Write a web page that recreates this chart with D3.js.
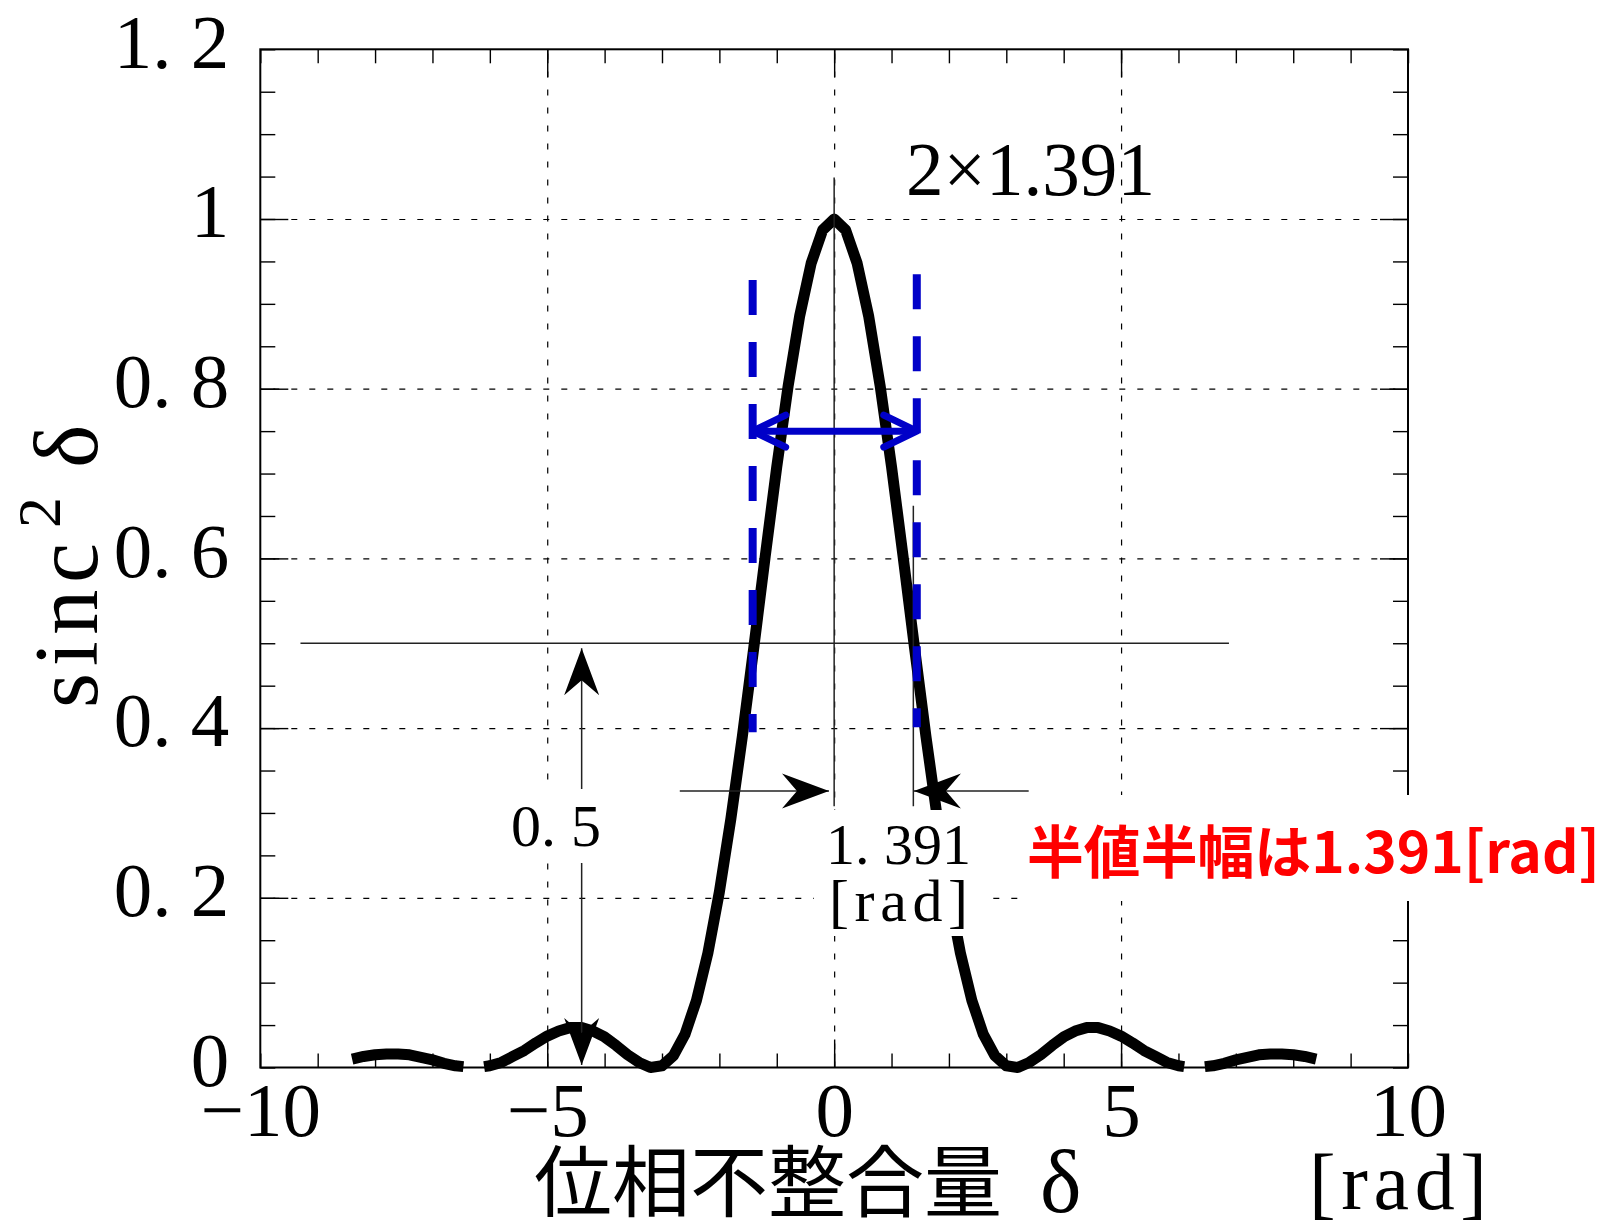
<!DOCTYPE html>
<html>
<head>
<meta charset="utf-8">
<script src="https://cdn.jsdelivr.net/npm/d3@7"></script>
<style>
  body { margin: 0; background: #fff; }
  svg { display: block; }
</style>
</head>
<body>
<svg id="chart" width="1610" height="1227"></svg>
<script>
// ---- values ----
var xTickLabels = [-10, -5, 0, 5, 10];
var yTickLabels = [0, 0.2, 0.4, 0.6, 0.8, 1, 1.2];
var xGrid = [-5, 0, 5];
var yGrid = [0.2, 0.4, 0.6, 0.8, 1.0];

// sinc^2 curve, plotted in three pieces (gaps near +-2pi in the original)
var outerLeftX = [-8.4, -8.2, -8.0, -7.8, -7.6, -7.4, -7.2, -7.0, -6.8, -6.6, -6.46];
var outerLeftY = [0.010, 0.013, 0.015, 0.016, 0.016, 0.015, 0.012, 0.009, 0.005, 0.002, 0.001];
var mainX = [-6.1, -6.0, -5.8, -5.6, -5.4, -5.2, -5.0, -4.8, -4.6, -4.4, -4.2, -4.0, -3.8, -3.6, -3.4, -3.2,
             -3.0, -2.8, -2.6, -2.4, -2.2, -2.0, -1.8, -1.6, -1.4, -1.2, -1.0, -0.8, -0.6, -0.4, -0.2, 0,
             0.2, 0.4, 0.6, 0.8, 1.0, 1.2, 1.4, 1.6, 1.8, 2.0, 2.2, 2.4, 2.6, 2.8, 3.0,
             3.2, 3.4, 3.6, 3.8, 4.0, 4.2, 4.4, 4.6, 4.8, 5.0, 5.2, 5.4, 5.6, 5.8, 6.0, 6.1];
var mainY = [0.001, 0.002, 0.006, 0.013, 0.020, 0.029, 0.037, 0.043, 0.047, 0.047, 0.043, 0.036, 0.026, 0.015, 0.006, 0.000,
             0.002, 0.014, 0.039, 0.079, 0.135, 0.207, 0.293, 0.390, 0.495, 0.603, 0.708, 0.804, 0.886, 0.948, 0.987, 1.000,
             0.987, 0.948, 0.886, 0.804, 0.708, 0.603, 0.495, 0.390, 0.293, 0.207, 0.135, 0.079, 0.039, 0.014, 0.002,
             0.000, 0.006, 0.015, 0.026, 0.036, 0.043, 0.047, 0.047, 0.043, 0.037, 0.029, 0.020, 0.013, 0.006, 0.002, 0.001];
var outerRightX = [6.46, 6.6, 6.8, 7.0, 7.2, 7.4, 7.6, 7.8, 8.0, 8.2, 8.4];
var outerRightY = [0.001, 0.002, 0.005, 0.009, 0.012, 0.015, 0.016, 0.016, 0.015, 0.013, 0.010];

// annotation values
var halfLevel = 0.5;
var halfLevelSpan = [-9.3, 6.88];
var blueX = [-1.42, 1.44];
var blueSpanLeft = [0.395, 0.928];
var blueSpanRight = [0.401, 0.935];
var blueArrowY = 0.75;
var centerLineX = 0, centerLineSpan = [0.308, 1.049];
var halfLineX = 1.38, halfLineSpan = [0.308, 0.662];
var dimArrowY = 0.326;
var dimLeft = [-2.69, -0.09];   // tail, tip
var dimRight = [3.39, 1.39];    // tail, tip
var lobeArrowX = -4.4;
var lobeArrowSpan = [0.003, 0.494]; // down tip, up tip

var svg = d3.select('#chart');
var W = +svg.attr('width'), H = +svg.attr('height');
var pad = {l: 260.3, r: 202, t: 49.3, b: 159.5};

var x = d3.scaleLinear().domain([-10, 10]).range([pad.l, W - pad.r]);
var y = d3.scaleLinear().domain([0, 1.2]).range([H - pad.b, pad.t]);
var plotW = W - pad.l - pad.r, plotH = H - pad.t - pad.b;

var serif = '"Liberation Serif", "DejaVu Serif", serif';
var jp = '"Noto Sans CJK JP", sans-serif';

// gridlines
svg.append('g')
   .attr('transform', 'translate(0,' + y(0) + ')')
   .call(d3.axisBottom(x).tickValues(xGrid).tickSize(-plotH).tickFormat(''))
   .call(g => g.select('.domain').remove())
   .selectAll('line').attr('stroke', '#000').attr('stroke-width', 1.2)
   .attr('stroke-dasharray', '6,12');
svg.append('g')
   .attr('transform', 'translate(' + x(-10) + ',0)')
   .call(d3.axisLeft(y).tickValues(yGrid).tickSize(-plotW).tickFormat(''))
   .call(g => g.select('.domain').remove())
   .selectAll('line').attr('stroke', '#000').attr('stroke-width', 1.2)
   .attr('stroke-dasharray', '6,12').attr('stroke-dashoffset', -13);

// ticks on all four sides
var minorX = d3.range(-10, 10.5, 1), majorX = [-5, 0, 5];
var minorY = d3.range(0, 1.2001, 0.05), majorY = [0.2, 0.4, 0.6, 0.8, 1.0];

function ticks(axisFn, scale, values, size, tr) {
    svg.append('g').attr('transform', tr)
       .call(axisFn(scale).tickValues(values).tickSize(-size).tickFormat(''))
       .call(g => g.select('.domain').remove())
       .selectAll('line').attr('stroke', '#000').attr('stroke-width', 1.4);
}
ticks(d3.axisBottom, x, minorX, 14, 'translate(0,' + y(0) + ')');
ticks(d3.axisBottom, x, majorX, 28, 'translate(0,' + y(0) + ')');
ticks(d3.axisTop, x, minorX, 14, 'translate(0,' + y(1.2) + ')');
ticks(d3.axisTop, x, majorX, 28, 'translate(0,' + y(1.2) + ')');
ticks(d3.axisLeft, y, minorY, 15, 'translate(' + x(-10) + ',0)');
ticks(d3.axisLeft, y, majorY, 28, 'translate(' + x(-10) + ',0)');
ticks(d3.axisRight, y, minorY, 15, 'translate(' + x(10) + ',0)');
ticks(d3.axisRight, y, majorY, 28, 'translate(' + x(10) + ',0)');

// frame
svg.append('rect')
   .attr('x', x(-10)).attr('y', y(1.2))
   .attr('width', plotW).attr('height', plotH)
   .attr('fill', 'none').attr('stroke', '#000').attr('stroke-width', 2);

// Mincho-like labels: the period takes a full half-width cell
function spacedPeriod(sel) {
    sel.each(function() {
        var t = d3.select(this), s = t.text(), i = s.indexOf('.');
        if (i < 0) return;
        t.text(null);
        t.append('tspan').text(s.slice(0, i + 1));
        t.append('tspan').attr('dx', '0.25em').text(s.slice(i + 1));
    });
}

// tick labels
var yLab = svg.append('g')
   .attr('transform', 'translate(' + x(-10) + ',0)')
   .call(d3.axisLeft(y).tickValues(yTickLabels).tickSize(0).tickPadding(31).tickFormat(d3.format('~g')));
yLab.attr('font-family', serif).attr('font-size', 77);
yLab.select('.domain').remove();
yLab.selectAll('text').attr('dy', '0.23em').attr('fill', '#000').call(spacedPeriod);

var xLab = svg.append('g')
   .attr('transform', 'translate(0,' + y(0) + ')')
   .call(d3.axisBottom(x).tickValues(xTickLabels).tickSize(0).tickPadding(14).tickFormat(d3.format('~g')));
xLab.attr('font-family', serif).attr('font-size', 77);
xLab.select('.domain').remove();
xLab.selectAll('text').attr('fill', '#000');

// half-maximum level line
svg.append('line')
   .attr('x1', x(halfLevelSpan[0])).attr('x2', x(halfLevelSpan[1]))
   .attr('y1', y(halfLevel)).attr('y2', y(halfLevel))
   .attr('stroke', '#222').attr('stroke-width', 1.5);

// curve
var segments = [
    d3.zip(outerLeftX, outerLeftY),
    d3.zip(mainX, mainY),
    d3.zip(outerRightX, outerRightY)
];
var line = d3.line().x(d => x(d[0])).y(d => y(d[1]));
svg.append('g').selectAll('path')
   .data(segments).join('path')
   .attr('d', line)
   .attr('fill', 'none').attr('stroke', '#000')
   .attr('stroke-width', 11).attr('stroke-linejoin', 'round').attr('stroke-linecap', 'butt');

// thin guide lines
var thin = svg.append('g').attr('stroke', '#222').attr('stroke-width', 1.5);
thin.append('line')
    .attr('x1', x(centerLineX)).attr('x2', x(centerLineX))
    .attr('y1', y(centerLineSpan[0])).attr('y2', y(centerLineSpan[1]));
thin.append('line')
    .attr('x1', x(halfLineX)).attr('x2', x(halfLineX))
    .attr('y1', y(halfLineSpan[0])).attr('y2', y(halfLineSpan[1]));
thin.append('line')
    .attr('x1', x(dimLeft[0])).attr('x2', x(dimLeft[1]))
    .attr('y1', y(dimArrowY)).attr('y2', y(dimArrowY));
thin.append('line')
    .attr('x1', x(dimRight[0])).attr('x2', x(dimRight[1]))
    .attr('y1', y(dimArrowY)).attr('y2', y(dimArrowY));
thin.append('line')
    .attr('x1', x(lobeArrowX)).attr('x2', x(lobeArrowX))
    .attr('y1', y(lobeArrowSpan[0])).attr('y2', y(lobeArrowSpan[1]));

// filled arrowheads
function stealth(px, py, angle) {
    svg.append('path')
       .attr('d', 'M0,0L-47,-17.5L-32,0L-47,17.5Z')
       .attr('transform', 'translate(' + px + ',' + py + ') rotate(' + angle + ')')
       .attr('fill', '#000');
}
stealth(x(dimLeft[1]), y(dimArrowY), 0);
stealth(x(dimRight[1]), y(dimArrowY), 180);
stealth(x(lobeArrowX), y(lobeArrowSpan[1]), -90);
stealth(x(lobeArrowX), y(lobeArrowSpan[0]), 90);

// blue full-width markers
var blue = '#0000c8';
var blueG = svg.append('g').attr('stroke', blue).attr('fill', 'none');
blueG.append('line')
     .attr('x1', x(blueX[0])).attr('x2', x(blueX[0]))
     .attr('y1', y(blueSpanLeft[1])).attr('y2', y(blueSpanLeft[0]))
     .attr('stroke-width', 8).attr('stroke-dasharray', '35,27');
blueG.append('line')
     .attr('x1', x(blueX[1])).attr('x2', x(blueX[1]))
     .attr('y1', y(blueSpanRight[1])).attr('y2', y(blueSpanRight[0]))
     .attr('stroke-width', 8).attr('stroke-dasharray', '35,27');
blueG.append('line')
     .attr('x1', x(blueX[0])).attr('x2', x(blueX[1]))
     .attr('y1', y(blueArrowY)).attr('y2', y(blueArrowY))
     .attr('stroke-width', 7);
blueG.append('path')
     .attr('d', 'M33,-16L0,0L33,16')
     .attr('transform', 'translate(' + x(blueX[0]) + ',' + y(blueArrowY) + ')')
     .attr('stroke-width', 7).attr('stroke-linecap', 'round').attr('stroke-linejoin', 'round');
blueG.append('path')
     .attr('d', 'M-33,-16L0,0L-33,16')
     .attr('transform', 'translate(' + x(blueX[1]) + ',' + y(blueArrowY) + ')')
     .attr('stroke-width', 7).attr('stroke-linecap', 'round').attr('stroke-linejoin', 'round');

// annotation text with white backing boxes
function boxedText(build, padX, padY) {
    var g = svg.append('g');
    var rect = g.append('rect').attr('fill', '#fff');
    var tg = g.append('g');
    build(tg);
    var bb = tg.node().getBBox();
    rect.attr('x', bb.x - padX).attr('y', bb.y - padY)
        .attr('width', bb.width + 2 * padX).attr('height', bb.height + 2 * padY);
}

boxedText(function(g) {
    g.append('text').attr('x', 511).attr('y', 846)
     .attr('font-family', serif).attr('font-size', 60).text('0.5').call(spacedPeriod);
}, 6, 4);

boxedText(function(g) {
    g.append('text').attr('x', 826).attr('y', 864)
     .attr('font-family', serif).attr('font-size', 58).text('1.391').call(spacedPeriod);
    g.append('text').attr('x', 829).attr('y', 921)
     .attr('font-family', serif).attr('font-size', 60)
     .attr('textLength', 139).attr('lengthAdjust', 'spacing').text('[rad]');
}, 12, 2);

boxedText(function(g) {
    g.append('text').attr('x', 1027).attr('y', 873)
     .attr('font-family', jp).attr('font-size', 57).attr('font-weight', 700)
     .attr('fill', '#ff0000')
     .attr('textLength', 573).attr('lengthAdjust', 'spacingAndGlyphs')
     .text('半値半幅は1.391[rad]');
}, 9, 12);

svg.append('text').attr('x', 906).attr('y', 195)
   .attr('font-family', serif).attr('font-size', 77)
   .attr('textLength', 249).attr('lengthAdjust', 'spacingAndGlyphs')
   .text('2×1.391');

// axis titles
var yTitle = svg.append('g').attr('transform', 'translate(97,708) rotate(-90)')
   .attr('font-family', serif).attr('fill', '#000');
yTitle.append('text').attr('x', 0).attr('y', 0).attr('font-size', 90)
   .attr('textLength', 165).attr('lengthAdjust', 'spacing').text('sinc');
yTitle.append('text').attr('x', 180).attr('y', -37).attr('font-size', 62).text('2');
yTitle.append('text').attr('x', 240).attr('y', 0).attr('font-size', 92).text('δ');

svg.append('text').attr('x', 534).attr('y', 1211)
   .attr('font-family', jp).attr('font-size', 78).text('位相不整合量');
svg.append('text').attr('x', 1040).attr('y', 1212)
   .attr('font-family', serif).attr('font-size', 88).text('δ');
svg.append('text').attr('x', 1309).attr('y', 1209)
   .attr('font-family', serif).attr('font-size', 80)
   .attr('textLength', 178).attr('lengthAdjust', 'spacing').text('[rad]');
</script>
</body>
</html>
